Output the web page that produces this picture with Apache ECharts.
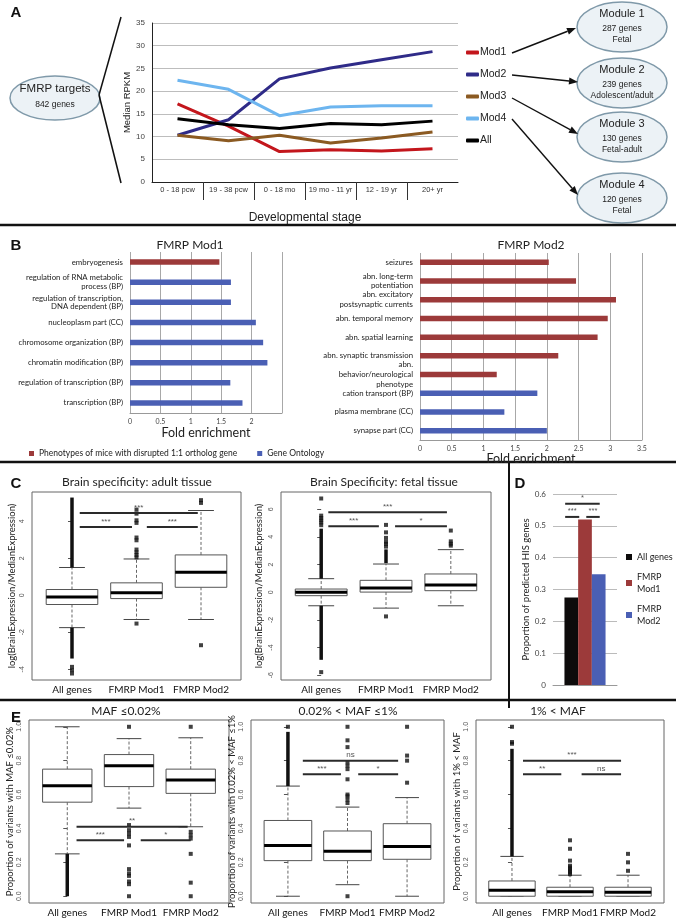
<!DOCTYPE html>
<html>
<head>
<meta charset="utf-8">
<title>FMRP target modules</title>
<script src="https://cdn.jsdelivr.net/npm/echarts@6.0.0/dist/echarts.min.js"></script>
<style>
  html, body { margin: 0; padding: 0; background: #fff; }
  #main { width: 676px; height: 918px; }
</style>
</head>
<body>
<div id="main"></div>
<script>
// ---------- A: median RPKM across development ----------
const stages = ['0 - 18 pcw', '19 - 38 pcw', '0 - 18 mo', '19 mo - 11 yr', '12 - 19 yr', '20+ yr'];
const mod1Rpkm = [17.2, 12.3, 6.7, 7.1, 6.8, 7.3];
const mod2Rpkm = [10.3, 13.7, 22.7, 25.1, 26.9, 28.7];
const mod3Rpkm = [10.3, 9.1, 10.3, 8.6, 9.7, 11.0];
const mod4Rpkm = [22.4, 20.4, 14.6, 16.5, 16.8, 16.8];
const allRpkm = [13.9, 12.6, 11.8, 12.9, 12.6, 13.4];
const moduleNames = ['Module 1', 'Module 2', 'Module 3', 'Module 4'];
const moduleGenes = ['287 genes', '239 genes', '130 genes', '120 genes'];
const moduleStages = ['Fetal', 'Adolescent/adult', 'Fetal-adult', 'Fetal'];

// ---------- B: fold enrichment ----------
const mod1Terms = ['embryogenesis', 'regulation of RNA metabolic\nprocess (BP)', 'regulation of transcription,\nDNA dependent (BP)',
  'nucleoplasm part (CC)', 'chromosome organization (BP)', 'chromatin modification (BP)',
  'regulation of transcription (BP)', 'transcription (BP)'];
const mod1Fold = [1.47, 1.66, 1.66, 2.07, 2.19, 2.26, 1.65, 1.85];
const mod1Source = ['P', 'G', 'G', 'G', 'G', 'G', 'G', 'G'];
const mod2Terms = ['seizures', 'abn. long-term\npotentiation', 'abn. excitatory\npostsynaptic currents', 'abn. temporal memory',
  'abn. spatial learning', 'abn. synaptic transmission', 'abn.\nbehavior/neurological\nphenotype',
  'cation transport (BP)', 'plasma membrane (CC)', 'synapse part (CC)'];
const mod2Fold = [2.03, 2.46, 3.09, 2.96, 2.80, 2.18, 1.21, 1.85, 1.33, 2.00];
const mod2Source = ['P', 'P', 'P', 'P', 'P', 'P', 'P', 'G', 'G', 'G'];
const PHENO = 'Phenotypes of mice with disrupted 1:1 ortholog gene';
const GO = 'Gene Ontology';

// ---------- C / E: box plots  [low, q1, median, q3, high] ----------
const groupNames = ['All genes', 'FMRP Mod1', 'FMRP Mod2'];

const adultBoxes = [[-1.75, -0.5, -0.09, 0.31, 1.5], [-1.31, -0.18, 0.13, 0.67, 1.96], [-1.31, 0.43, 1.24, 2.18, 4.58]];
const adultRuns = [[0, 1.5, 5.28], [0, -1.75, -3.42]];
const adultOutliers = [[0, -3.87], [0, -4.05], [0, -4.23],
  [1, 4.63], [1, 4.41], [1, 4.05], [1, 3.91], [1, 3.12], [1, 2.97], [1, 2.47], [1, 2.32], [1, 2.18], [1, 2.05], [1, -1.53],
  [2, 5.14], [2, 4.99], [2, -2.7]];
const adultSig = [[0.12, 1.95, 4.45], [0.12, 0.93, 3.69], [1.16, 1.95, 3.69]];
const adultSigText = ['***', '***', '***'];

const fetalBoxes = [[-0.98, -0.25, -0.01, 0.23, 0.98], [-1.15, 0.01, 0.3, 0.86, 2.04], [-0.98, 0.11, 0.52, 1.32, 3.08]];
const fetalRuns = [[0, 0.98, 4.6], [0, -0.98, -4.89], [1, 2.1, 3.1]];
const fetalOutliers = [[0, 4.85], [0, 5.05], [0, 5.2], [0, 5.37], [0, 5.54], [0, 6.78], [0, -5.78],
  [1, 3.3], [1, 3.5], [1, 3.65], [1, 3.93], [1, 4.33], [1, 4.87], [1, -1.75],
  [2, 3.37], [2, 3.51], [2, 3.68], [2, 4.46]];
const fetalSig = [[0.11, 1.94, 5.78], [0.11, 0.89, 4.77], [1.14, 1.94, 4.77]];
const fetalSigText = ['***', '***', '*'];

const rareBoxes = [[0.25, 0.555, 0.652, 0.75, 1.0], [0.52, 0.647, 0.77, 0.836, 0.93], [0.41, 0.607, 0.686, 0.75, 0.935]];
const rareRuns = [[0, 0.0, 0.25]];
const rareOutliers = [[1, 1.0], [1, 0.42], [1, 0.39], [1, 0.37], [1, 0.35], [1, 0.3], [1, 0.16], [1, 0.135], [1, 0.12], [1, 0.087], [1, 0.071], [1, 0.0],
  [2, 1.0], [2, 0.38], [2, 0.36], [2, 0.34], [2, 0.25], [2, 0.08], [2, 0.0]];
const rareSig = [[0.15, 1.95, 0.41], [0.15, 0.92, 0.33], [1.19, 2.0, 0.33]];
const rareSigText = ['**', '***', '*'];

const lowBoxes = [[0.0, 0.21, 0.3, 0.447, 0.65], [0.068, 0.21, 0.266, 0.385, 0.526], [0.0, 0.218, 0.293, 0.428, 0.582]];
const lowRuns = [[0, 0.65, 0.97]];
const lowOutliers = [[0, 1.0],
  [1, 0.55], [1, 0.57], [1, 0.59], [1, 0.6], [1, 0.69], [1, 0.75], [1, 0.77], [1, 0.79], [1, 0.88], [1, 0.92], [1, 1.0], [1, 0.0],
  [2, 0.67], [2, 0.8], [2, 0.83], [2, 1.0]];
const lowSig = [[0.25, 1.85, 0.8], [0.25, 0.89, 0.72], [1.18, 1.85, 0.72]];
const lowSigText = ['ns', '***', '*'];

const commonBoxes = [[0.0, 0.0, 0.035, 0.09, 0.235], [0.0, 0.0, 0.026, 0.053, 0.124], [0.0, 0.0, 0.024, 0.053, 0.124]];
const commonRuns = [[0, 0.235, 0.87]];
const commonOutliers = [[0, 0.9], [0, 0.91], [0, 1.0],
  [1, 0.13], [1, 0.14], [1, 0.15], [1, 0.16], [1, 0.17], [1, 0.18], [1, 0.21], [1, 0.28], [1, 0.33],
  [2, 0.15], [2, 0.2], [2, 0.25]];
const commonSig = [[0.19, 1.88, 0.8], [0.19, 0.85, 0.72], [1.2, 1.88, 0.72]];
const commonSigText = ['***', '**', 'ns'];

// ---------- D: predicted haploinsufficient genes ----------
const hisNames = ['All genes', 'FMRP\nMod1', 'FMRP\nMod2'];
const hisProportion = [0.275, 0.52, 0.348];
const hisSig = [[0.19, 0.73, 0.569], [0.19, 0.41, 0.528], [0.52, 0.73, 0.528]];
const hisSigText = ['*', '***', '***'];

const SANS = '"Liberation Sans", Arial, sans-serif';
const CAL = 'Lato, "Open Sans", sans-serif';
const RED = '#9c3a3a';
const BLUE = '#4a5fb4';

const xAxes = [];
const yAxes = [];
const series = [];
const graphics = [];

const grids = [
  { left: 152, top: 23, width: 306, height: 159 },
  { left: 130, top: 252, width: 152, height: 161 },
  { left: 420, top: 253, width: 222, height: 187 },
  { left: 32, top: 492, width: 209, height: 188, show: true, borderColor: '#666', borderWidth: 1 },
  { left: 281, top: 492, width: 210, height: 188, show: true, borderColor: '#666', borderWidth: 1 },
  { left: 553, top: 494, width: 64, height: 191 },
  { left: 29, top: 720, width: 200, height: 187, show: true, borderColor: '#666', borderWidth: 1 },
  { left: 251, top: 720, width: 193, height: 187, show: true, borderColor: '#666', borderWidth: 1 },
  { left: 476, top: 720, width: 188, height: 187, show: true, borderColor: '#666', borderWidth: 1 }
];

function txt(x, y, text, font, fill, align) {
  graphics.push({
    type: 'text', x, y, silent: true,
    style: { text, font, fill: fill || '#222', align: align || 'center', verticalAlign: 'middle',
      textAlign: align || 'center', textVerticalAlign: 'middle' }
  });
}
function seg(x1, y1, x2, y2, w, color) {
  graphics.push({ type: 'line', silent: true, shape: { x1, y1, x2, y2 }, style: { stroke: color || '#111', lineWidth: w } });
}
function arrow(x1, y1, x2, y2) {
  const ang = Math.atan2(y2 - y1, x2 - x1), L = 9, W = 3.5;
  const bx = x2 - L * Math.cos(ang), by = y2 - L * Math.sin(ang);
  const px = -Math.sin(ang) * W, py = Math.cos(ang) * W;
  seg(x1, y1, bx, by, 1.4);
  graphics.push({ type: 'polygon', silent: true, shape: { points: [[x2, y2], [bx + px, by + py], [bx - px, by - py]] }, style: { fill: '#111' } });
}
function bubble(cx, cy, rx, ry) {
  graphics.push({ type: 'ellipse', silent: true, shape: { cx, cy, rx, ry }, style: { fill: '#ecf2f6', stroke: '#7f99a9', lineWidth: 1.5 } });
}

// ---------- panel A ----------
xAxes.push({
  gridIndex: 0, type: 'category', data: stages, boundaryGap: true,
  axisLine: { lineStyle: { color: '#222', width: 1 } }, axisTick: { show: false },
  axisLabel: { fontSize: 7.5, color: '#333', margin: 4, interval: 0, fontFamily: SANS },
  name: 'Developmental stage', nameLocation: 'middle', nameGap: 30,
  nameTextStyle: { fontSize: 12, color: '#222', fontFamily: SANS }
});
xAxes.push({
  gridIndex: 0, type: 'value', min: 0, max: stages.length, position: 'bottom',
  axisLine: { show: false }, axisLabel: { show: false }, splitLine: { show: false },
  axisTick: { show: true, customValues: [1, 2, 3, 4, 5], length: 18, lineStyle: { color: '#333' } }
});
yAxes.push({
  gridIndex: 0, type: 'value', min: 0, max: 35, interval: 5,
  axisLine: { show: true, lineStyle: { color: '#222' } }, axisTick: { show: false },
  axisLabel: { fontSize: 8, color: '#444', margin: 7, fontFamily: SANS },
  splitLine: { lineStyle: { color: '#bdbdbd' } },
  name: 'Median RPKM', nameLocation: 'middle', nameGap: 19,
  nameTextStyle: { fontSize: 9.5, color: '#222', fontFamily: SANS }
});
[['Mod1', mod1Rpkm, '#c3161c'], ['Mod2', mod2Rpkm, '#2f2b88'], ['Mod3', mod3Rpkm, '#8b5a22'],
 ['Mod4', mod4Rpkm, '#6db5ef'], ['All', allRpkm, '#000']].forEach(([name, data, color]) => {
  series.push({
    name, type: 'line', xAxisIndex: 0, yAxisIndex: 0, data, symbol: 'none', color,
    lineStyle: { width: 3, color }, z: 3
  });
});

bubble(55, 98, 45, 22);
txt(55, 89, 'FMRP targets', '11.5px ' + SANS);
txt(55, 105, '842 genes', '8.5px ' + SANS);
seg(99, 95, 121, 17, 1.5);
seg(99, 95, 121, 183, 1.5);
const moduleY = [27, 83, 137, 198];
moduleNames.forEach((m, i) => {
  bubble(622, moduleY[i], 45, 25);
  txt(622, moduleY[i] - 13, m, '11px ' + SANS);
  txt(622, moduleY[i] + 2, moduleGenes[i], '8.5px ' + SANS);
  txt(622, moduleY[i] + 13, moduleStages[i], '8.5px ' + SANS);
});
arrow(512, 53, 576, 28);
arrow(512, 75, 578, 82);
arrow(512, 98, 578, 134);
arrow(512, 119, 578, 195);

// ---------- panel B ----------
function enrichPanel(grid, terms, fold, source, max, hideLast, lineH, nameGap) {
  const xi = xAxes.length, yi = yAxes.length;
  xAxes.push({
    gridIndex: grid, type: 'value', min: 0, max, interval: 0.5,
    axisLine: { show: true, lineStyle: { color: '#999' } }, axisTick: { show: false },
    axisLabel: { fontSize: 7, color: '#444', margin: 5, fontFamily: CAL,
      formatter: v => (hideLast && v === max ? '' : String(v)) },
    splitLine: { lineStyle: { color: '#a8a8a8' } },
    name: 'Fold enrichment', nameLocation: 'middle', nameGap,
    nameTextStyle: { fontSize: 12.5, color: '#222', fontFamily: CAL, verticalAlign: 'top' }
  });
  yAxes.push({
    gridIndex: grid, type: 'category', data: terms, inverse: true,
    axisLine: { show: false }, axisTick: { show: false },
    axisLabel: { fontSize: 7.8, color: '#222', margin: 7, lineHeight: lineH, fontFamily: CAL, interval: 0 }
  });
  series.push({
    name: PHENO, type: 'bar', xAxisIndex: xi, yAxisIndex: yi, barWidth: 5.5, barGap: '-100%', color: RED,
    data: fold.map((v, i) => (source[i] === 'P' ? v : '-'))
  });
  series.push({
    name: GO, type: 'bar', xAxisIndex: xi, yAxisIndex: yi, barWidth: 5.5, barGap: '-100%', color: BLUE,
    data: fold.map((v, i) => (source[i] === 'G' ? v : '-'))
  });
}
enrichPanel(1, mod1Terms, mod1Fold, mod1Source, 2.5, true, 8.5, 13);
enrichPanel(2, mod2Terms, mod2Fold, mod2Source, 3.5, false, 9.6, 10);

// ---------- box plot helpers ----------
function renderBox(params, api) {
  const i = api.value(0);
  const pLow = api.coord([i, api.value(1)]);
  const pQ1 = api.coord([i, api.value(2)]);
  const pMed = api.coord([i, api.value(3)]);
  const pQ3 = api.coord([i, api.value(4)]);
  const pHigh = api.coord([i, api.value(5)]);
  const half = api.size([0.8, 0])[0] / 2;
  const cap = half * 0.5;
  const x = pMed[0];
  const dash = { stroke: '#666', lineWidth: 1, lineDash: [3, 2] };
  const solid = { stroke: '#444', lineWidth: 1 };
  return {
    type: 'group', children: [
      { type: 'line', shape: { x1: x, y1: pQ3[1], x2: x, y2: pHigh[1] }, style: dash },
      { type: 'line', shape: { x1: x, y1: pQ1[1], x2: x, y2: pLow[1] }, style: dash },
      { type: 'line', shape: { x1: x - cap, y1: pHigh[1], x2: x + cap, y2: pHigh[1] }, style: solid },
      { type: 'line', shape: { x1: x - cap, y1: pLow[1], x2: x + cap, y2: pLow[1] }, style: solid },
      { type: 'rect', shape: { x: x - half, y: pQ3[1], width: half * 2, height: pQ1[1] - pQ3[1] },
        style: { fill: '#fff', stroke: '#555', lineWidth: 1 } },
      { type: 'line', shape: { x1: x - half, y1: pMed[1], x2: x + half, y2: pMed[1] }, style: { stroke: '#000', lineWidth: 3 } }
    ]
  };
}
function renderRun(params, api) {
  const a = api.coord([api.value(0), api.value(1)]);
  const b = api.coord([api.value(0), api.value(2)]);
  return { type: 'line', shape: { x1: a[0], y1: a[1], x2: b[0], y2: b[1] }, style: { stroke: '#111', lineWidth: 3.5 } };
}
function sigRenderer(labels, size) {
  return function (params, api) {
    const a = api.coord([api.value(0), api.value(2)]);
    const b = api.coord([api.value(1), api.value(2)]);
    return {
      type: 'group', children: [
        { type: 'line', shape: { x1: a[0], y1: a[1], x2: b[0], y2: b[1] }, style: { stroke: '#2a2a2a', lineWidth: 2 } },
        { type: 'text', x: (a[0] + b[0]) / 2, y: a[1] - 1.5,
          style: { text: labels[params.dataIndex], fill: '#555', font: (size || 8) + 'px ' + SANS,
            align: 'center', verticalAlign: 'bottom', textAlign: 'center', textVerticalAlign: 'bottom' } }
      ]
    };
  };
}
function rPanel(p) {
  const xi = xAxes.length, yi = yAxes.length;
  xAxes.push({
    gridIndex: p.grid, type: 'value', min: -0.62, max: 2.62,
    axisLine: { show: false }, axisTick: { show: false }, splitLine: { show: false },
    axisLabel: { customValues: [0, 1, 2], formatter: v => groupNames[Math.round(v)],
      fontSize: 10, color: '#111', margin: 5, fontFamily: CAL }
  });
  yAxes.push({
    gridIndex: p.grid, type: 'value', min: p.ymin, max: p.ymax,
    axisLine: { show: false }, splitLine: { show: false },
    axisTick: { show: true, customValues: p.ticks, length: 4, lineStyle: { color: '#555' } },
    axisLabel: { customValues: p.ticks, rotate: 90, fontSize: 7, color: '#555', margin: 6, fontFamily: SANS,
      formatter: p.fmt },
    name: p.name, nameLocation: 'middle', nameGap: p.nameGap,
    nameTextStyle: { fontSize: 9.5, color: '#222', fontFamily: CAL }
  });
  const ax = { xAxisIndex: xi, yAxisIndex: yi };
  series.push({ type: 'custom', ...ax, data: p.boxes.map((b, i) => [i].concat(b)), renderItem: renderBox,
    encode: { x: 0, y: [1, 2, 3, 4, 5] }, z: 3, silent: true });
  series.push({ type: 'custom', ...ax, data: p.runs, renderItem: renderRun, encode: { x: 0, y: [1, 2] }, z: 4, silent: true });
  series.push({ type: 'scatter', ...ax, data: p.outliers, symbol: 'rect', symbolSize: 4, itemStyle: { color: '#111' }, z: 4, silent: true });
  series.push({ type: 'custom', ...ax, data: p.sig, renderItem: sigRenderer(p.sigText), encode: { x: [0, 1], y: 2 }, z: 5, silent: true });
}

const fmtInt = v => String(v);
const fmt1 = v => v.toFixed(1);
const propTicks = [0, 0.2, 0.4, 0.6, 0.8, 1.0];

rPanel({ grid: 3, ymin: -4.58, ymax: 5.58, ticks: [-4, -2, 0, 2, 4], fmt: fmtInt,
  name: 'log(BrainExpression/MedianExpression)', nameGap: 15,
  boxes: adultBoxes, runs: adultRuns, outliers: adultOutliers, sig: adultSig, sigText: adultSigText });
rPanel({ grid: 4, ymin: -6.35, ymax: 7.25, ticks: [-6, -4, -2, 0, 2, 4, 6], fmt: fmtInt,
  name: 'log(BrainExpression/MedianExpression)', nameGap: 17,
  boxes: fetalBoxes, runs: fetalRuns, outliers: fetalOutliers, sig: fetalSig, sigText: fetalSigText });
rPanel({ grid: 6, ymin: -0.04, ymax: 1.04, ticks: propTicks, fmt: fmt1,
  name: 'Proportion of variants with MAF \u22640.02%', nameGap: 13,
  boxes: rareBoxes, runs: rareRuns, outliers: rareOutliers, sig: rareSig, sigText: rareSigText });
rPanel({ grid: 7, ymin: -0.04, ymax: 1.04, ticks: propTicks, fmt: fmt1,
  name: 'Proportion of variants with 0.02% < MAF \u22641%', nameGap: 13,
  boxes: lowBoxes, runs: lowRuns, outliers: lowOutliers, sig: lowSig, sigText: lowSigText });
rPanel({ grid: 8, ymin: -0.04, ymax: 1.04, ticks: propTicks, fmt: fmt1,
  name: 'Proportion of variants with 1% < MAF', nameGap: 13,
  boxes: commonBoxes, runs: commonRuns, outliers: commonOutliers, sig: commonSig, sigText: commonSigText });

// ---------- panel D ----------
const dCat = xAxes.length;
xAxes.push({
  gridIndex: 5, type: 'category', data: [''], axisLine: { lineStyle: { color: '#999' } },
  axisTick: { show: false }, axisLabel: { show: false }
});
const dVal = xAxes.length;
xAxes.push({ gridIndex: 5, type: 'value', min: 0, max: 1, show: false });
const dY = yAxes.length;
yAxes.push({
  gridIndex: 5, type: 'value', min: 0, max: 0.6, interval: 0.1,
  axisLine: { show: false }, axisTick: { show: false },
  axisLabel: { fontSize: 8, color: '#444', margin: 7, fontFamily: CAL, formatter: v => (v === 0 ? '0' : v.toFixed(1)) },
  splitLine: { lineStyle: { color: '#bbb' } },
  name: 'Proportion of predicted HIS genes', nameLocation: 'middle', nameGap: 20,
  nameTextStyle: { fontSize: 9.5, color: '#222', fontFamily: CAL }
});
const hisColors = ['#0d0b0b', RED, BLUE];
hisNames.forEach((name, i) => {
  series.push({
    name, type: 'bar', xAxisIndex: dCat, yAxisIndex: dY, data: [hisProportion[i]],
    barWidth: 13.7, barGap: '0%', color: hisColors[i]
  });
});
series.push({ type: 'custom', xAxisIndex: dVal, yAxisIndex: dY, data: hisSig, renderItem: sigRenderer(hisSigText, 7.5),
  encode: { x: [0, 1], y: 2 }, z: 5, silent: true });

// ---------- titles, panel letters, frame lines ----------
txt(16, 13, 'A', 'bold 15px ' + SANS, '#111');
txt(16, 246, 'B', 'bold 15px ' + SANS, '#111');
txt(16, 484, 'C', 'bold 15px ' + SANS, '#111');
txt(520, 484, 'D', 'bold 15px ' + SANS, '#111');
txt(16, 718, 'E', 'bold 15px ' + SANS, '#111');
txt(190, 245, 'FMRP Mod1', '12px ' + CAL);
txt(531, 245, 'FMRP Mod2', '12px ' + CAL);
txt(137, 482, 'Brain specificity: adult tissue', '12px ' + CAL);
txt(384, 482, 'Brain Specificity: fetal tissue', '12px ' + CAL);
txt(126, 711, 'MAF \u22640.02%', '12px ' + CAL);
txt(348, 711, '0.02% < MAF \u22641%', '12px ' + CAL);
txt(558, 711, '1% < MAF', '12px ' + CAL);
seg(0, 225, 676, 225, 2.5);
seg(0, 462, 676, 462, 2.5);
seg(0, 700, 676, 700, 2.5);
seg(509, 462, 509, 708, 2);

const chart = echarts.init(document.getElementById('main'));
chart.setOption({
  animation: false,
  backgroundColor: '#fff',
  textStyle: { fontFamily: SANS },
  grid: grids,
  xAxis: xAxes,
  yAxis: yAxes,
  legend: [
    {
      data: ['Mod1', 'Mod2', 'Mod3', 'Mod4', 'All'], orient: 'vertical', left: 466, top: 46, padding: 0,
      icon: 'roundRect', itemWidth: 13, itemHeight: 4, itemGap: 9, selectedMode: false,
      textStyle: { fontSize: 10.5, color: '#222', lineHeight: 13, fontFamily: SANS, padding: [0, 0, 0, -4] }
    },
    {
      data: [PHENO, GO], left: 29, top: 449, padding: 0, icon: 'rect', itemWidth: 5, itemHeight: 5, itemGap: 20,
      selectedMode: false, textStyle: { fontSize: 8.5, color: '#222', fontFamily: CAL }
    },
    {
      data: hisNames, orient: 'vertical', left: 626, top: 551, padding: 0, icon: 'rect', itemWidth: 6, itemHeight: 6,
      itemGap: 8, selectedMode: false, textStyle: { fontSize: 9, color: '#222', lineHeight: 12, fontFamily: CAL }
    }
  ],
  graphic: { elements: graphics },
  series
});
</script>
</body>
</html>
